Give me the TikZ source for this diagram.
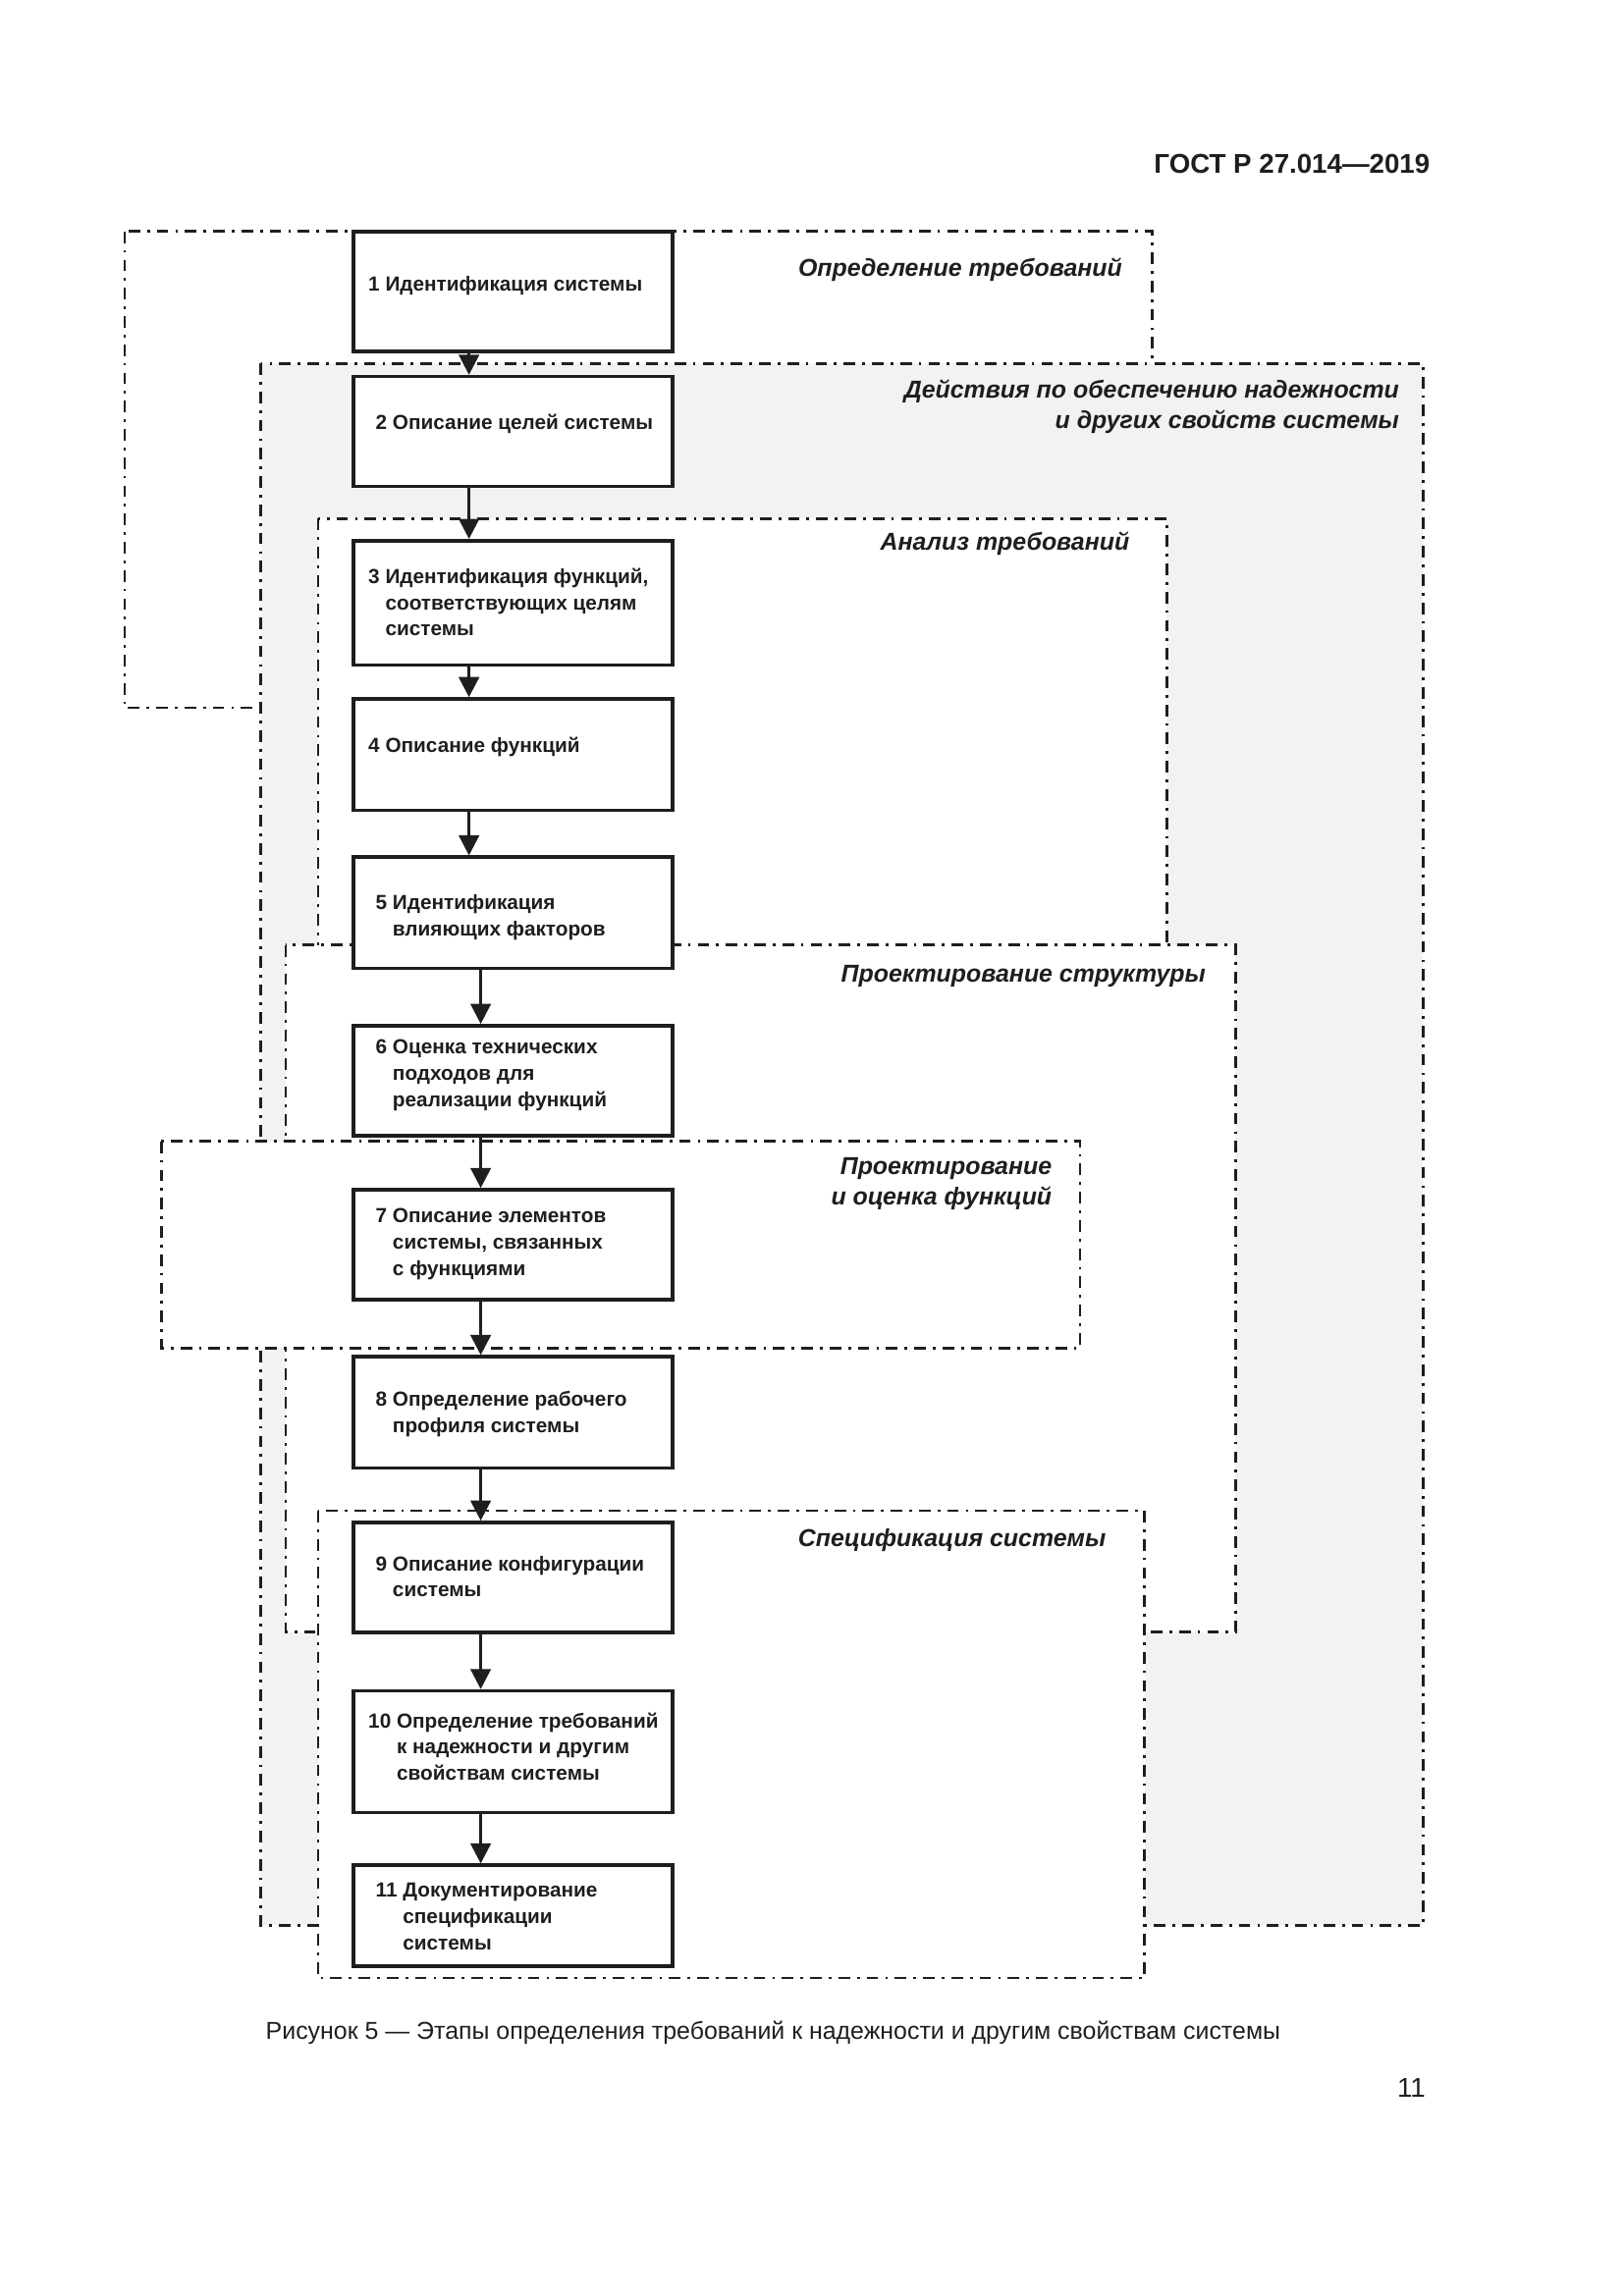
\documentclass[tikz,border=0pt]{standalone}
\usepackage{fontspec}
\setmainfont{Liberation Sans}
\usetikzlibrary{arrows.meta,calc,fit}
\definecolor{ink}{HTML}{1E1E1E}
\definecolor{shade}{HTML}{F2F2F2}
\begin{document}
\begin{tikzpicture}[x=0.18953mm,y=-0.18953mm,
  frame/.style={draw=ink, line width=0.35mm, dash pattern=on 1.5mm off 0.9mm on 0.35mm off 0.9mm},
  stepbox/.style={draw=ink, line width=0.45mm, fill=white, inner sep=0pt},
  boxtext/.style={inner sep=0pt, align=left, text=ink, font=\bfseries\fontsize{7.5}{9.7}\selectfont},
  grouplabel/.style={inner sep=0pt, align=right, text=ink, font=\bfseries\itshape\fontsize{9}{11.2}\selectfont},
  arr/.style={draw=ink, line width=0.38mm, -{Triangle[length=2.6mm,width=2.6mm]}}
]
\useasboundingbox (0,0) rectangle (1108,1567);
\fill[white] (0,0) rectangle (1108,1567);

% header
\node[anchor=east, inner sep=0pt, text=ink, font=\bfseries\fontsize{10}{12}\selectfont] (hdr) at (976,112) {ГОСТ Р 27.014—2019};

% group frames
\draw[frame] (85,158) rectangle (786,483);
\draw[frame, fill=shade] (178,248) rectangle (971,1314);
\draw[frame, fill=white] (217,354) rectangle (796,700);
\draw[frame, fill=white] (195,645) rectangle (843,1114);
\draw[frame, fill=white] (110,779) rectangle (737,920);
\draw[frame, fill=white] (217,1031) rectangle (781,1350);

% group labels
\node[grouplabel, anchor=east] (g1) at (766,184) {Определение требований};
\node[grouplabel, anchor=east] (g2) at (955,277.5) {Действия по обеспечению надежности\\и других свойств системы};
\node[grouplabel, anchor=east] (g3) at (771,371) {Анализ требований};
\node[grouplabel, anchor=east] (g4) at (823,666) {Проектирование структуры};
\node[grouplabel, anchor=east] (g5) at (718,808) {Проектирование\\и оценка функций};
\node[grouplabel, anchor=east] (g6) at (755,1051) {Спецификация системы};

% step boxes
\node[stepbox, fit={(241,158) (459,240)}] (b1) {};
\node[stepbox, fit={(241,257) (459,332)}] (b2) {};
\node[stepbox, fit={(241,369) (459,454)}] (b3) {};
\node[stepbox, fit={(241,477) (459,553)}] (b4) {};
\node[stepbox, fit={(241,585) (459,661)}] (b5) {};
\node[stepbox, fit={(241,700) (459,775)}] (b6) {};
\node[stepbox, fit={(241,812) (459,887)}] (b7) {};
\node[stepbox, fit={(241,926) (459,1002)}] (b8) {};
\node[stepbox, fit={(241,1039) (459,1114)}] (b9) {};
\node[stepbox, fit={(241,1154) (459,1237)}] (b10) {};
\node[stepbox, fit={(241,1273) (459,1342)}] (b11) {};

% step texts
\node[boxtext, anchor=west] (t1) at (251,195) {1 Идентификация системы};
\node[boxtext, anchor=west] (t2) at (256,289) {2 Описание целей системы};
\node[boxtext, anchor=west] (t3) at (251,411) {3 Идентификация функций,\\\hphantom{3 }соответствующих целям\\\hphantom{3 }системы};
\node[boxtext, anchor=west] (t4) at (251,510) {4 Описание функций};
\node[boxtext, anchor=west] (t5) at (256,626) {5 Идентификация\\\hphantom{5 }влияющих факторов};
\node[boxtext, anchor=west] (t6) at (256,734) {6 Оценка технических\\\hphantom{6 }подходов для\\\hphantom{6 }реализации функций};
\node[boxtext, anchor=west] (t7) at (256,849) {7 Описание элементов\\\hphantom{7 }системы, связанных\\\hphantom{7 }с функциями};
\node[boxtext, anchor=west] (t8) at (256,965) {8 Определение рабочего\\\hphantom{8 }профиля системы};
\node[boxtext, anchor=west] (t9) at (256,1076) {9 Описание конфигурации\\\hphantom{9 }системы};
\node[boxtext, anchor=west] (t10) at (251,1192) {10 Определение требований\\\hphantom{10 }к надежности и другим\\\hphantom{10 }свойствам системы};
\node[boxtext, anchor=west] (t11) at (256,1308) {11 Документирование\\\hphantom{11 }спецификации\\\hphantom{11 }системы};

% connectors
\draw[arr] ($(b1.south)+(-30,0)$) -- ($(b2.north)+(-30,0)$);
\draw[arr] ($(b2.south)+(-30,0)$) -- ($(b3.north)+(-30,0)$);
\draw[arr] ($(b3.south)+(-30,0)$) -- ($(b4.north)+(-30,0)$);
\draw[arr] ($(b4.south)+(-30,0)$) -- ($(b5.north)+(-30,0)$);
\draw[arr] ($(b5.south)+(-22,0)$) -- ($(b6.north)+(-22,0)$);
\draw[arr] ($(b6.south)+(-22,0)$) -- ($(b7.north)+(-22,0)$);
\draw[arr] ($(b7.south)+(-22,0)$) -- ($(b8.north)+(-22,0)$);
\draw[arr] ($(b8.south)+(-22,0)$) -- ($(b9.north)+(-22,0)$);
\draw[arr] ($(b9.south)+(-22,0)$) -- ($(b10.north)+(-22,0)$);
\draw[arr] ($(b10.south)+(-22,0)$) -- ($(b11.north)+(-22,0)$);

% caption and page number
\node[anchor=west, inner sep=0pt, text=ink, font=\fontsize{9}{11}\selectfont] (cap) at (181,1387) {Рисунок 5 — Этапы определения требований к надежности и другим свойствам системы};
\node[anchor=east, inner sep=0pt, text=ink, font=\fontsize{10}{12}\selectfont] (pg) at (973,1425) {11};
\end{tikzpicture}
\end{document}
